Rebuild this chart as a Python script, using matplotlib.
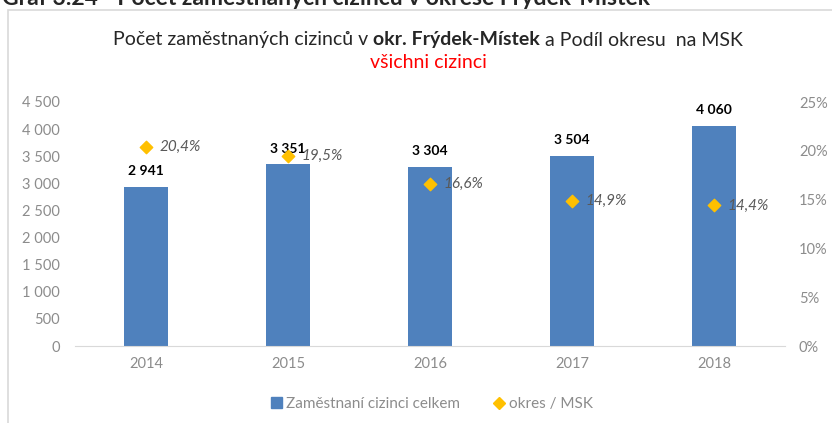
import matplotlib.pyplot as plt
from matplotlib.patches import Rectangle
from matplotlib.lines import Line2D

plt.rcParams['font.family'] = ['Lato', 'DejaVu Sans']

years = ['2014', '2015', '2016', '2017', '2018']
employed = [2941, 3351, 3304, 3504, 4060]
share = [20.4, 19.5, 16.6, 14.9, 14.4]
left_ticks = [0, 500, 1000, 1500, 2000, 2500, 3000, 3500, 4000, 4500]
right_ticks = [0, 5, 10, 15, 20, 25]

bar_col = '#4F81BD'
dia_col = '#FFC000'
grey = '#8c8c8c'


def cz(n):
    return f'{n:,}'.replace(',', ' ')


fig = plt.figure(figsize=(8.32, 4.23), dpi=100)

# frame around the chart (continues out of the picture on the right)
fig.patches.append(Rectangle((8 / 832, -0.1), 1.0, 1 - 10 / 423 + 0.1, transform=fig.transFigure,
                             fill=False, ec='#d9d9d9', lw=1.2))

# cut-off caption above the chart
fig.text(2 / 832, 1 - 5 / 423, 'Graf 3.24 - Počet zaměstnaných cizinců v okrese Frýdek-Místek',
         fontsize=16.5, fontweight='bold', color='#262626', va='baseline', ha='left')

ax = fig.add_axes([75 / 832, 1 - 346 / 423, 710 / 832, 244 / 423])
x = range(len(years))
ax.bar(x, employed, width=0.31, color=bar_col, zorder=2)
ax.set_xlim(-0.5, len(years) - 0.5)
ax.set_ylim(0, 4500)
ax.set_yticks(left_ticks)
ax.set_yticklabels([cz(t) for t in left_ticks])
ax.set_xticks(list(x))
ax.set_xticklabels(years)
for s in ['top', 'right', 'left']:
    ax.spines[s].set_visible(False)
ax.spines['bottom'].set_color('#d9d9d9')
ax.tick_params(axis='both', length=0, labelsize=10.5, labelcolor=grey)
ax.tick_params(axis='y', pad=11)
ax.tick_params(axis='x', pad=8)

for i, v in enumerate(employed):
    ax.annotate(cz(v), (i, v), xytext=(0, 7), textcoords='offset points', ha='center', va='bottom',
                fontsize=10, fontweight='bold', color='black')

ax2 = ax.twinx()
ax2.set_ylim(0, 25)
ax2.set_yticks(right_ticks)
ax2.set_yticklabels([f'{t}%' for t in right_ticks])
for s in ['top', 'right', 'left', 'bottom']:
    ax2.spines[s].set_visible(False)
ax2.tick_params(axis='y', length=0, labelsize=10.5, labelcolor=grey, pad=10)
ax2.scatter(x, share, marker='D', s=40, color=dia_col, zorder=3)
for i, v in enumerate(share):
    ax2.annotate(f'{v:.1f}%'.replace('.', ','), (i, v), xytext=(10, 0), textcoords='offset points',
                 ha='left', va='center', fontsize=11, fontstyle='italic', color='#595959')

# title, partly bold
parts = [('Počet zaměstnaných cizinců v ', 'normal'), ('okr. Frýdek-Místek', 'bold'),
         (' a Podíl okresu  na MSK', 'normal')]
fig.canvas.draw()
r = fig.canvas.get_renderer()
texts = []
for s, w in parts:
    t = fig.text(0, 1 - 40 / 423, s, fontsize=14, fontweight=w, color='#262626', va='center', ha='left')
    texts.append(t)
widths = [t.get_window_extent(r).width for t in texts]
xpos = 428 - sum(widths) / 2
for t, w in zip(texts, widths):
    t.set_x(xpos / 832)
    xpos += w
fig.text(428 / 832, 1 - 63 / 423, 'všichni cizinci', fontsize=14, color='#FF0000', ha='center', va='center')

handles = [Rectangle((0, 0), 1, 1, color=bar_col),
           Line2D([], [], marker='D', ls='none', color=dia_col, markersize=6)]
fig.legend(handles, ['Zaměstnaní cizinci celkem', 'okres / MSK'], loc='center', ncol=2,
           bbox_to_anchor=(432 / 832, 1 - 404 / 423), frameon=False, fontsize=11, labelcolor=grey,
           handlelength=0.7, handletextpad=0.3, columnspacing=2.2)

fig.savefig('out.png', dpi=100)
